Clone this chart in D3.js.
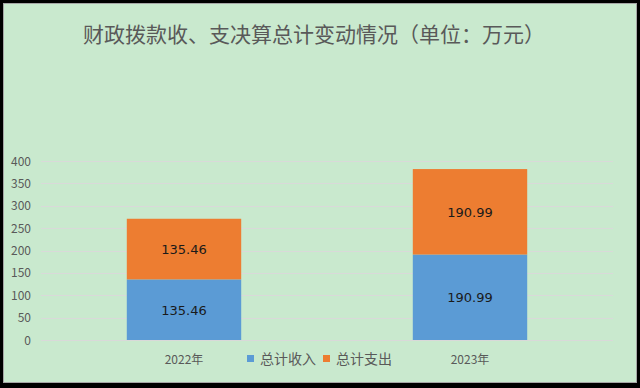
<!DOCTYPE html>
<html>
<head>
<meta charset="utf-8">
<script src="https://cdn.jsdelivr.net/npm/d3@7"></script>
<style>
  html, body { margin: 0; padding: 0; background: #000; }
  svg { display: block; }
</style>
</head>
<body>
<svg id="vis" width="640" height="388"></svg>
<script>
// chart data
var years = ["2022年", "2023年"];
var seriesNames = ["总计收入", "总计支出"];
var income = [135.46, 190.99];
var expense = [135.46, 190.99];
var yTicks = [0, 50, 100, 150, 200, 250, 300, 350, 400];
var colors = ["#5b9bd5", "#ed7d31"];

var FONT = "'Noto Sans CJK SC', 'Noto Sans', sans-serif";
var _vis = d3.select("#vis");

// chart area with thin grey frame
_vis.append("rect")
    .attr("x", 3.5).attr("y", 3.5)
    .attr("width", 633).attr("height", 379)
    .attr("fill", "#c9e9ce")
    .attr("stroke", "#a6a6a6")
    .attr("stroke-width", 1);

// title
_vis.append("text")
    .attr("x", 314).attr("y", 42)
    .attr("text-anchor", "middle")
    .attr("font-family", FONT)
    .attr("font-size", 21)
    .attr("fill", "#595959")
    .text("财政拨款收、支决算总计变动情况（单位：万元）");

var x = d3.scaleBand()
    .domain(years)
    .range([41, 613])
    .paddingInner(0.6)
    .paddingOuter(0.3);

var y = d3.scaleLinear()
    .domain([0, 400])
    .range([340, 161]);

// gridlines
_vis.append("g")
    .selectAll("line")
    .data(yTicks)
    .enter()
    .append("line")
    .attr("x1", 41).attr("x2", 613)
    .attr("y1", d => Math.round(y(d)) + 0.5)
    .attr("y2", d => Math.round(y(d)) + 0.5)
    .attr("stroke", "#d9d9d9")
    .attr("stroke-width", 1);

// y axis labels
_vis.append("g")
    .selectAll("text")
    .data(yTicks)
    .enter()
    .append("text")
    .attr("x", 31)
    .attr("y", d => y(d) + 4.5)
    .attr("text-anchor", "end")
    .attr("font-family", FONT)
    .attr("font-size", 12)
    .attr("fill", "#595959")
    .text(d => d);

// stacked bars
var rows = years.map(function(yr, i) {
    return { year: yr, vals: [income[i], expense[i]] };
});

rows.forEach(function(r) {
    var base = 0;
    r.vals.forEach(function(v, j) {
        var y0 = y(base), y1 = y(base + v);
        _vis.append("rect")
            .attr("x", x(r.year))
            .attr("y", y1)
            .attr("width", x.bandwidth())
            .attr("height", y0 - y1)
            .attr("fill", colors[j]);
        _vis.append("text")
            .attr("x", x(r.year) + x.bandwidth() / 2)
            .attr("y", (y0 + y1) / 2 + 5)
            .attr("text-anchor", "middle")
            .attr("font-family", "'DejaVu Sans', sans-serif")
            .attr("font-size", 13)
            .attr("fill", "#1a1a1a")
            .text(v.toFixed(2));
        base += v;
    });
});

// x axis labels
_vis.append("g")
    .selectAll("text")
    .data(years)
    .enter()
    .append("text")
    .attr("x", d => x(d) + x.bandwidth() / 2)
    .attr("y", 364)
    .attr("text-anchor", "middle")
    .attr("font-family", FONT)
    .attr("font-size", 12)
    .attr("fill", "#595959")
    .text(d => d);

// legend
var legendX = [247, 323];
seriesNames.forEach(function(name, j) {
    _vis.append("rect")
        .attr("x", legendX[j]).attr("y", 355)
        .attr("width", 7).attr("height", 7)
        .attr("fill", colors[j]);
    _vis.append("text")
        .attr("x", legendX[j] + 13)
        .attr("y", 364)
        .attr("font-family", FONT)
        .attr("font-size", 14)
        .attr("fill", "#595959")
        .text(name);
});
</script>
</body>
</html>
